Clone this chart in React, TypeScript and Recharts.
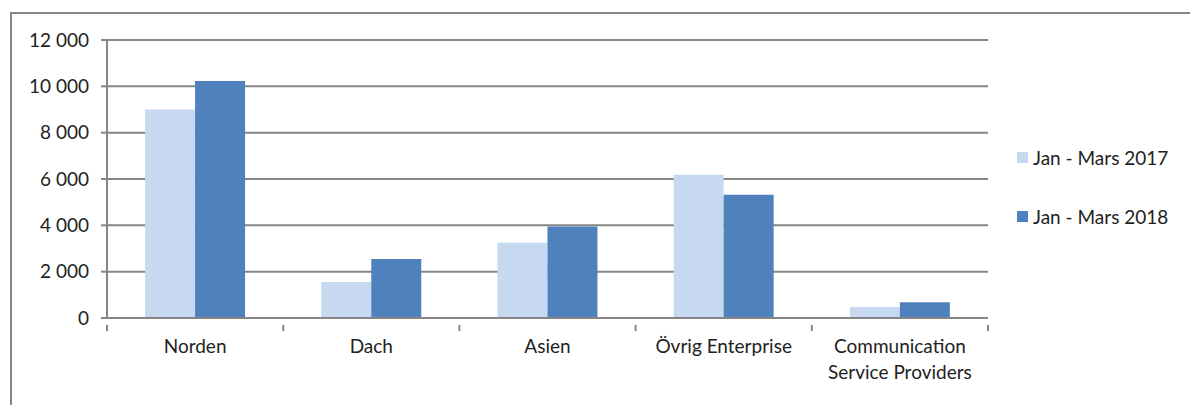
import React from 'react';
import { BarChart, Bar, XAxis, YAxis, CartesianGrid, Legend, Text } from 'recharts';

const categories = ['Norden', 'Dach', 'Asien', 'Övrig Enterprise', 'Communication Service Providers'];
const series2017 = [9000, 1550, 3250, 6180, 470];
const series2018 = [10230, 2550, 3950, 5320, 680];
const yTicks = [0, 2000, 4000, 6000, 8000, 10000, 12000];
const seriesNames = ['Jan - Mars 2017', 'Jan - Mars 2018'];
const colors = ['#c6d9f1', '#4f81bd'];

const data = categories.map((c, i) => ({ name: c, a: series2017[i], b: series2018[i] }));

const FONT = 'Lato, "Noto Sans", sans-serif';
const TEXT_COLOR = '#222';
const LINE = '#868686';

const fmt = (v: number) => String(v).replace(/\B(?=(\d{3})+(?!\d))/g, ' ');

const CatTick = (props: any) => {
  const { x, y, payload, index, visibleTicksCount } = props;
  const off = payload && payload.offset ? payload.offset : 0;
  const isLast = index === (visibleTicksCount ?? categories.length) - 1;
  return (
    <g>
      <line x1={x - off} x2={x - off} y1={y - 1} y2={y + 5} stroke={LINE} strokeWidth={2} />
      {isLast && <line x1={x + off} x2={x + off} y1={y - 1} y2={y + 5} stroke={LINE} strokeWidth={2} />}
      <Text
        x={x}
        y={y + 14}
        width={160}
        textAnchor="middle"
        verticalAnchor="start"
        lineHeight={26}
        style={{ fontSize: 19, fontFamily: FONT }}
        fontSize={19}
        fontFamily={FONT}
        fill={TEXT_COLOR}
      >
        {payload.value}
      </Text>
    </g>
  );
};

const LegendContent = () => (
  <div style={{ fontFamily: FONT, fontSize: 19, color: TEXT_COLOR }}>
    {seriesNames.map((n, i) => (
      <div key={n} style={{ display: 'flex', alignItems: 'center', height: 24, marginBottom: i === 0 ? 35 : 0 }}>
        <span style={{ display: 'inline-block', width: 11, height: 11, background: colors[i], marginRight: 5 }} />
        <span style={{ whiteSpace: 'nowrap' }}>{n}</span>
      </div>
    ))}
  </div>
);

export default function App() {
  return (
    <div style={{ position: 'absolute', left: 0, top: 0, width: 1190, height: 405, background: '#fff', overflow: 'hidden' }}>
      <div
        style={{
          position: 'absolute',
          left: 10,
          top: 12,
          width: 1200,
          height: 420,
          borderTop: `2px solid ${LINE}`,
          borderLeft: `2px solid ${LINE}`,
          boxSizing: 'border-box',
        }}
      />
      <BarChart
        width={1190}
        height={405}
        data={data}
        margin={{ top: 40, right: 32, bottom: 27, left: 0 }}
        barGap={0}
        barCategoryGap="21.6%"
      >
        <CartesianGrid vertical={false} stroke={LINE} strokeWidth={2} />
        <XAxis
          dataKey="name"
          height={60}
          interval={0}
          tickLine={false}
          axisLine={{ stroke: LINE, strokeWidth: 2 }}
          tick={<CatTick />}
        />
        <YAxis
          width={107}
          domain={[0, 12000]}
          ticks={yTicks}
          interval={0}
          tickFormatter={fmt}
          tickSize={6}
          tickMargin={12}
          tickLine={{ stroke: LINE, strokeWidth: 2 }}
          axisLine={{ stroke: LINE, strokeWidth: 2 }}
          tick={{ fontSize: 19, fontFamily: FONT, fill: TEXT_COLOR }}
        />
        <Legend
          content={<LegendContent />}
          layout="vertical"
          align="right"
          verticalAlign="middle"
          wrapperStyle={{ position: 'absolute', left: 1017, top: 145, width: 170 }}
        />
        <Bar dataKey="a" name={seriesNames[0]} fill={colors[0]} isAnimationActive={false} />
        <Bar dataKey="b" name={seriesNames[1]} fill={colors[1]} isAnimationActive={false} />
      </BarChart>
    </div>
  );
}
